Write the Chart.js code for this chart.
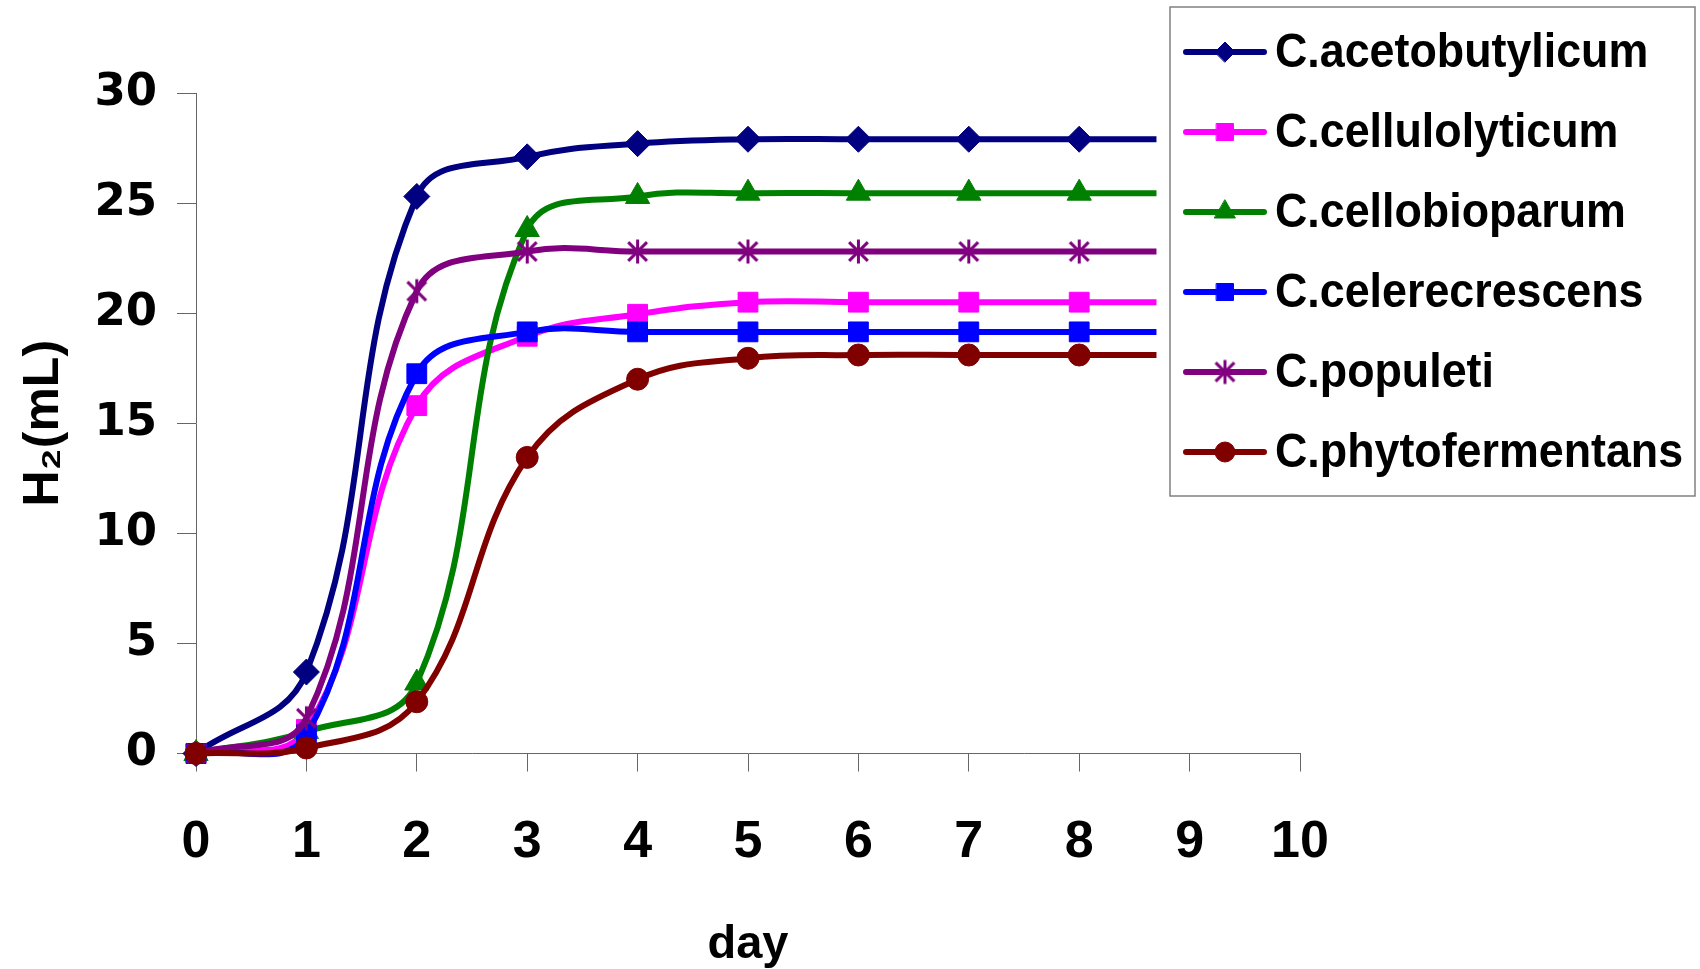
<!DOCTYPE html>
<html>
<head>
<meta charset="utf-8">
<script src="https://cdn.jsdelivr.net/npm/chart.js@4.4.1/dist/chart.umd.min.js"></script>
<style>
  html, body { margin: 0; padding: 0; background: #fff; }
</style>
</head>
<body>
<canvas id="h2Chart" width="1700" height="969"></canvas>
<script>
// days sampled; last point (8.7) is where the lines stop, no marker there
const days = [0, 1, 2, 3, 4, 5, 6, 7, 8, 8.7];

const seriesNames = [
  "C.acetobutylicum",
  "C.cellulolyticum",
  "C.cellobioparum",
  "C.celerecrescens",
  "C.populeti",
  "C.phytofermentans"
];

const acetobutylicum  = [0, 3.7, 25.3, 27.1, 27.7, 27.9, 27.9, 27.9, 27.9, 27.9];
const cellulolyticum  = [0, 1.1, 15.8, 18.95, 19.95, 20.5, 20.5, 20.5, 20.5, 20.5];
const cellobioparum   = [0, 1.0, 3.2, 23.8, 25.3, 25.45, 25.45, 25.45, 25.45, 25.45];
const celerecrescens  = [0, 0.85, 17.25, 19.15, 19.15, 19.15, 19.15, 19.15, 19.15, 19.15];
const populeti        = [0, 1.6, 21.0, 22.8, 22.8, 22.8, 22.8, 22.8, 22.8, 22.8];
const phytofermentans = [0, 0.25, 2.35, 13.45, 17.0, 17.95, 18.1, 18.1, 18.1, 18.1];

const yTicks = [0, 5, 10, 15, 20, 25, 30];
const xTicks = [0, 1, 2, 3, 4, 5, 6, 7, 8, 9, 10];

const seriesValues = [acetobutylicum, cellulolyticum, cellobioparum, celerecrescens, populeti, phytofermentans];
const seriesColors = ["#000080", "#FF00FF", "#008000", "#0000FF", "#800080", "#800000"];

// excel-like "*" marker for C.populeti
function asteriskMarker(color, size) {
  const c = document.createElement("canvas");
  c.width = size; c.height = size;
  const g = c.getContext("2d");
  const m = size / 2, r = size / 2 - 1.5, d = r * 0.78;
  g.strokeStyle = color;
  g.lineWidth = 3;
  g.beginPath();
  g.moveTo(m, m - r); g.lineTo(m, m + r);
  g.moveTo(m - d, m - d); g.lineTo(m + d, m + d);
  g.moveTo(m + d, m - d); g.lineTo(m - d, m + d);
  g.stroke();
  return c;
}

const starImg = asteriskMarker("#800080", 27);
const pointStyles = ["rectRot", "rect", "triangle", "rect", starImg, "circle"];
const pointSizes  = [13, 14, 14, 14, 13, 11];
const legendSizes = [10, 12, 12, 12, 13, 10];

const datasets = seriesNames.map((name, i) => ({
  label: name,
  data: days.map((d, j) => ({ x: d, y: seriesValues[i][j] })),
  borderColor: seriesColors[i],
  backgroundColor: seriesColors[i],
  borderWidth: 6,
  tension: 0.4,
  pointStyle: pointStyles[i],
  pointRadius: days.map(d => (Number.isInteger(d) ? pointSizes[i] : 0)),
  pointBorderWidth: 1,
  pointBackgroundColor: seriesColors[i],
  pointBorderColor: seriesColors[i],
  clip: false,
  order: seriesNames.length - i
}));

/* ── legend drawn by hand: line + marker + label, boxed at top right ── */
const legendBox = {
  id: "legendBox",
  afterDraw(chart) {
    const ctx = chart.ctx;
    ctx.save();
    ctx.strokeStyle = "#808080";
    ctx.lineWidth = 1.5;
    ctx.strokeRect(1170, 7, 525, 489);

    chart.data.datasets.forEach((ds, i) => {
      const y = 52 + 80 * i;
      ctx.strokeStyle = ds.borderColor;
      ctx.lineWidth = 6;
      ctx.lineCap = "round";
      ctx.beginPath();
      ctx.moveTo(1186, y);
      ctx.lineTo(1264, y);
      ctx.stroke();

      ctx.fillStyle = ds.backgroundColor;
      ctx.strokeStyle = ds.borderColor;
      ctx.lineWidth = 1;
      Chart.helpers.drawPoint(ctx, {
        pointStyle: ds.pointStyle, radius: legendSizes[i], rotation: 0, borderWidth: 1
      }, 1225, y);

      ctx.save();
      ctx.fillStyle = "#000";
      ctx.font = "bold 49px 'Liberation Sans', Arial, sans-serif";
      ctx.textBaseline = "alphabetic";
      ctx.translate(1275, y + 15);
      ctx.scale(0.914, 1);
      ctx.fillText(ds.label, 0, 0);
      ctx.restore();
    });
    ctx.restore();
  }
};

const axisColor = "#666";

new Chart(document.getElementById("h2Chart"), {
  type: "line",
  data: { datasets },
  plugins: [legendBox],
  options: {
    responsive: false,
    animation: false,
    events: [],
    layout: { padding: { left: 0, right: 400, top: 93, bottom: 0 } },
    elements: { line: { capBezierPoints: false } },
    plugins: {
      legend: { display: false },
      tooltip: { enabled: false }
    },
    scales: {
      x: {
        type: "linear",
        min: 0, max: 10,
        afterBuildTicks: s => { s.ticks = xTicks.map(v => ({ value: v })); },
        afterFit: s => { s.height = 215.5; },
        border: { color: axisColor, width: 1 },
        grid: { drawOnChartArea: false, drawTicks: true, tickLength: 18, color: axisColor },
        ticks: {
          color: "#000",
          padding: 40,
          maxRotation: 0,
          autoSkip: false,
          font: { family: "'Liberation Sans', Arial, sans-serif", size: 52, weight: "bold" }
        },
        title: {
          display: true,
          text: "day",
          color: "#000",
          padding: { top: 0, bottom: 0 },
          font: { family: "'Liberation Sans', Arial, sans-serif", size: 47, weight: "bold", lineHeight: 1 }
        }
      },
      y: {
        min: 0, max: 30,
        afterBuildTicks: s => { s.ticks = yTicks.map(v => ({ value: v })); },
        afterFit: s => { s.width = 196; },
        border: { color: axisColor, width: 1 },
        grid: { drawOnChartArea: false, drawTicks: true, tickLength: 19, color: axisColor },
        ticks: {
          color: "#000",
          padding: 20,
          font: { family: "'DejaVu Sans', sans-serif", size: 45, weight: "bold" }
        },
        title: {
          display: true,
          text: "H₂(mL)",
          color: "#000",
          padding: { top: 14, bottom: 0 },
          font: { family: "'Liberation Sans', Arial, sans-serif", size: 50, weight: "bold" }
        }
      }
    }
  }
});
</script>
</body>
</html>
